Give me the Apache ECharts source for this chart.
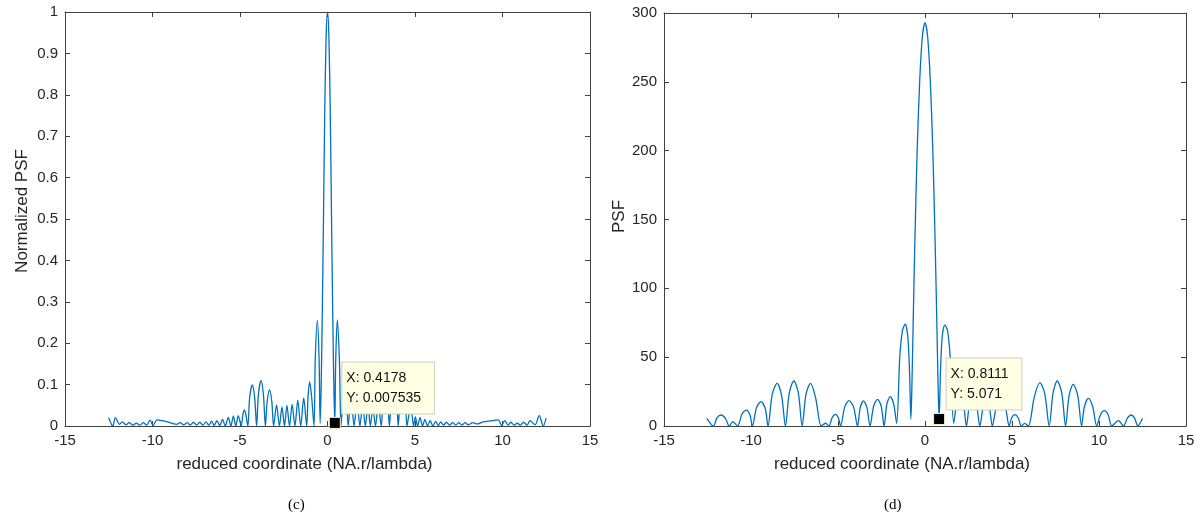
<!DOCTYPE html>
<html>
<head>
<meta charset="utf-8">
<script src="https://cdn.jsdelivr.net/npm/echarts@6/dist/echarts.min.js"></script>
<style>
html,body{margin:0;padding:0;background:#fff;}
#c{width:1200px;height:522px;}
</style>
</head>
<body>
<div id="c"></div>
<script>
// ---- data ----
const xTicks = [-15, -10, -5, 0, 5, 10, 15];
const normTicks = [0, 0.1, 0.2, 0.3, 0.4, 0.5, 0.6, 0.7, 0.8, 0.9, 1];
const psfTicks = [0, 50, 100, 150, 200, 250, 300];

const xName = 'reduced coordinate (NA.r/lambda)';
const normName = 'Normalized PSF';
const psfName = 'PSF';
const captions = ['(c)', '(d)'];

// (c) normalized PSF : [x, value]
const normPsf = [
  [-12.50, 0.020], [-12.27, 0.000], [-12.12, 0.020], [-11.88, 0.004], [-11.72, 0.010],
  [-11.52, 0.003], [-11.33, 0.008], [-11.12, 0.002], [-10.92, 0.007], [-10.72, 0.002],
  [-10.52, 0.008], [-10.34, 0.002], [-10.14, 0.014], [-9.96, 0.001], [-9.75, 0.015],
  [-9.45, 0.013], [-9.15, 0.010], [-8.85, 0.006], [-8.62, 0.004], [-8.42, 0.008],
  [-8.22, 0.003], [-8.02, 0.008], [-7.84, 0.002], [-7.66, 0.009], [-7.47, 0.002],
  [-7.30, 0.009], [-7.12, 0.002], [-6.95, 0.010], [-6.78, 0.002], [-6.62, 0.012],
  [-6.47, 0.001], [-6.32, 0.013], [-6.16, 0.001], [-6.00, 0.016], [-5.84, 0.000],
  [-5.67, 0.021], [-5.52, 0.000], [-5.38, 0.024], [-5.24, 0.000], [-5.10, 0.025],
  [-4.93, 0.000], [-4.84, 0.026], [-4.75, 0.039], [-4.66, 0.026], [-4.55, 0.000],
  [-4.45, 0.068], [-4.30, 0.099], [-4.16, 0.068], [-4.05, 0.000],
  [-3.95, 0.075], [-3.80, 0.110], [-3.66, 0.075], [-3.55, 0.000],
  [-3.45, 0.058], [-3.31, 0.087], [-3.18, 0.058], [-3.08, 0.000],
  [-2.91, 0.051], [-2.75, 0.000], [-2.60, 0.046], [-2.46, 0.000], [-2.32, 0.050],
  [-2.17, 0.000], [-2.02, 0.052], [-1.86, 0.000], [-1.70, 0.062], [-1.53, 0.000],
  [-1.36, 0.068], [-1.19, 0.000], [-1.11, 0.072], [-1.02, 0.107], [-0.91, 0.072],
  [-0.77, 0.000], [-0.70, 0.160], [-0.58, 0.255], [-0.48, 0.160], [-0.42, 0.006],
  [-0.36, 0.100], [-0.29, 0.300], [-0.23, 0.500], [-0.16, 0.750], [-0.08, 0.940],
  [0.00, 1.000],
  [0.08, 0.940], [0.16, 0.750], [0.23, 0.500], [0.29, 0.300], [0.36, 0.100],
  [0.4178, 0.007535], [0.47, 0.160], [0.56, 0.256], [0.68, 0.160], [0.77, 0.000],
  [0.90, 0.072], [1.01, 0.106], [1.10, 0.072], [1.18, 0.000], [1.35, 0.068],
  [1.52, 0.000], [1.69, 0.061], [1.85, 0.000], [2.01, 0.052], [2.16, 0.000],
  [2.31, 0.050], [2.45, 0.000], [2.59, 0.046], [2.74, 0.000], [2.90, 0.051],
  [3.07, 0.000], [3.17, 0.058], [3.30, 0.087], [3.44, 0.058], [3.54, 0.000],
  [3.65, 0.075], [3.79, 0.110], [3.94, 0.075], [4.04, 0.000],
  [4.15, 0.068], [4.29, 0.099], [4.44, 0.068], [4.54, 0.000],
  [4.65, 0.026], [4.74, 0.038], [4.83, 0.026], [4.92, 0.000], [5.02, 0.022],
  [5.15, 0.000], [5.29, 0.020], [5.43, 0.000], [5.57, 0.016], [5.72, 0.000],
  [5.87, 0.013], [6.02, 0.000], [6.18, 0.011], [6.33, 0.001], [6.47, 0.010],
  [6.63, 0.002], [6.80, 0.009], [6.97, 0.002], [7.15, 0.008], [7.33, 0.002],
  [7.50, 0.008], [7.68, 0.002], [7.86, 0.008], [8.05, 0.003], [8.30, 0.008],
  [8.55, 0.005], [8.90, 0.010], [9.20, 0.012], [9.47, 0.013], [9.76, 0.015],
  [9.95, 0.001], [10.13, 0.013], [10.32, 0.002], [10.48, 0.009], [10.66, 0.002],
  [10.85, 0.007], [11.03, 0.002], [11.20, 0.009], [11.40, 0.002], [11.57, 0.013],
  [11.86, 0.003], [12.10, 0.025], [12.33, 0.000], [12.49, 0.019]
];

// (d) PSF : [x, value]
const psf = [
  [-12.54, 5.6], [-12.16, 0.0], [-11.95, 6.0], [-11.71, 8.0], [-11.47, 5.5],
  [-11.25, 0.0], [-11.04, 3.1], [-10.77, 0.0], [-10.52, 8.5], [-10.27, 11.6],
  [-10.06, 8.0], [-9.92, 0.0], [-9.68, 13.5], [-9.42, 17.7], [-9.18, 12.5],
  [-9.02, 0.0], [-8.78, 23.0], [-8.50, 31.0], [-8.24, 22.0], [-8.02, 0.0],
  [-7.80, 24.0], [-7.54, 32.7], [-7.28, 24.0], [-7.06, 0.0], [-6.84, 23.0],
  [-6.58, 31.0], [-6.28, 20.0], [-5.96, 0.0], [-5.71, 2.0], [-5.52, 0.0],
  [-5.33, 6.3], [-5.14, 8.5], [-4.98, 6.0], [-4.85, 0.0], [-4.62, 13.5],
  [-4.37, 18.4], [-4.10, 13.5], [-3.88, 0.0], [-3.72, 13.5], [-3.54, 18.2],
  [-3.34, 13.5], [-3.16, 0.0], [-2.95, 14.5], [-2.73, 19.4], [-2.52, 14.5],
  [-2.35, 0.0], [-2.19, 16.0], [-2.00, 21.3], [-1.80, 16.0], [-1.63, 2.0],
  [-1.45, 50.0], [-1.30, 69.0], [-1.14, 74.0], [-0.99, 65.0], [-0.89, 40.0],
  [-0.81, 5.07], [-0.76, 25.0], [-0.68, 75.0], [-0.58, 135.0], [-0.45, 200.0],
  [-0.30, 252.0], [-0.15, 283.0], [0.00, 293.0], [0.15, 283.0], [0.30, 252.0],
  [0.45, 200.0], [0.58, 135.0], [0.68, 75.0], [0.76, 25.0], [0.8111, 5.071],
  [0.89, 40.0], [0.99, 65.0], [1.14, 73.5], [1.30, 69.0], [1.45, 50.0],
  [1.65, 2.0], [1.82, 16.0], [2.02, 21.3], [2.21, 16.0], [2.38, 0.0],
  [2.55, 14.5], [2.76, 19.4], [2.97, 14.5], [3.15, 0.0], [3.34, 13.5],
  [3.52, 18.2], [3.70, 13.5], [3.87, 0.0], [4.10, 13.5], [4.37, 18.4],
  [4.62, 13.5], [4.84, 0.0], [4.98, 6.0], [5.17, 8.2], [5.35, 6.0],
  [5.54, 0.0], [5.73, 1.9], [5.94, 0.0], [6.28, 21.0], [6.60, 31.5],
  [6.88, 23.5], [7.14, 0.0], [7.36, 24.0], [7.60, 32.7], [7.86, 24.0],
  [8.08, 0.0], [8.28, 22.0], [8.52, 30.3], [8.78, 22.0], [9.00, 0.0],
  [9.16, 14.0], [9.39, 20.1], [9.64, 14.0], [9.87, 0.0], [10.08, 8.0],
  [10.31, 11.1], [10.53, 8.0], [10.73, 0.0], [11.12, 3.9], [11.41, 0.0],
  [11.62, 5.5], [11.85, 8.0], [12.05, 5.5], [12.23, 0.0], [12.50, 5.6]
];

// data tips
const tipNorm = [0.4178, 0.007535];
const tipPsf = [0.8111, 5.071];

// ---- chart ----
const LINE = '#0072BD';
const AXIS = '#404040';
const TXT = '#262626';
const FONT = '"Liberation Sans", Arial, sans-serif';

function fmt(v) { return String(parseFloat(Number(v).toFixed(4))); }

function xAxes(gi) {
  const base = {
    gridIndex: gi, type: 'value',
    min: xTicks[0], max: xTicks[xTicks.length - 1], interval: xTicks[1] - xTicks[0],
    splitLine: { show: false },
    axisLine: { onZero: false, lineStyle: { color: AXIS, width: 1 } },
    axisTick: { inside: true, length: 5, lineStyle: { color: AXIS } }
  };
  return [
    Object.assign({}, base, {
      position: 'bottom',
      axisLabel: { color: TXT, fontSize: 15, fontFamily: FONT, margin: 7, formatter: fmt },
      name: xName, nameLocation: 'middle', nameGap: 30,
      nameTextStyle: { color: TXT, fontSize: 17, fontFamily: FONT, padding: [0, 46, 0, 0] }
    }),
    Object.assign({}, base, { position: 'top', axisLabel: { show: false } })
  ];
}
function yAxes(gi, ticks, name, gap, shift) {
  const base = {
    gridIndex: gi, type: 'value',
    min: ticks[0], max: ticks[ticks.length - 1], interval: ticks[1] - ticks[0],
    splitLine: { show: false },
    axisLine: { onZero: false, lineStyle: { color: AXIS, width: 1 } },
    axisTick: { inside: true, length: 5, lineStyle: { color: AXIS } }
  };
  return [
    Object.assign({}, base, {
      position: 'left',
      axisLabel: { color: TXT, fontSize: 15, fontFamily: FONT, margin: 7, formatter: fmt },
      name: name, nameLocation: 'middle', nameGap: gap, nameRotate: 90,
      nameTextStyle: { color: TXT, fontSize: 17, fontFamily: FONT, padding: [0, 0, 0, shift] }
    }),
    Object.assign({}, base, { position: 'right', axisLabel: { show: false } })
  ];
}

function tipSeries(xi, yi, tip) {
  return {
    type: 'scatter', xAxisIndex: xi, yAxisIndex: yi, clip: false, z: 20, zlevel: 1,
    data: [tip], symbol: 'rect', symbolSize: 11,
    itemStyle: { color: '#000', borderColor: '#f3f0c8', borderWidth: 1, opacity: 1 },
    label: {
      show: true, position: [13.5, -54.5],
      formatter: 'X: ' + tip[0] + '\nY: ' + tip[1],
      color: '#111', fontSize: 14, fontFamily: FONT, lineHeight: 20,
      backgroundColor: '#ffffe3', borderColor: '#cfcfbf', borderWidth: 1,
      padding: [6, 13, 5, 4]
    },
    labelLayout: { hideOverlap: false },
    emphasis: { disabled: true },
    silent: true
  };
}

const option = {
  animation: false,
  backgroundColor: '#fff',
  grid: [
    { left: 65, top: 12, width: 525, height: 414 },
    { left: 664, top: 13, width: 522, height: 413 }
  ],
  xAxis: xAxes(0).concat(xAxes(1)),
  yAxis: yAxes(0, normTicks, normName, 34, 16).concat(yAxes(1, psfTicks, psfName, 34, 6)),
  series: [
    {
      type: 'line', xAxisIndex: 0, yAxisIndex: 0, data: normPsf, z: 1,
      showSymbol: false, symbol: 'none', smooth: 0.3,
      lineStyle: { color: LINE, width: 1.3 }
    },
    {
      type: 'line', xAxisIndex: 2, yAxisIndex: 2, data: psf, z: 1,
      showSymbol: false, symbol: 'none', smooth: 0.3,
      lineStyle: { color: LINE, width: 1.3 }
    },
    tipSeries(0, 0, tipNorm),
    tipSeries(2, 2, tipPsf)
  ],
  graphic: [
    { type: 'text', left: 288, top: 498, style: { text: captions[0], fill: '#000', font: '15px "Liberation Serif", "Times New Roman", serif' } },
    { type: 'text', left: 884, top: 498, style: { text: captions[1], fill: '#000', font: '15px "Liberation Serif", "Times New Roman", serif' } }
  ]
};

const chart = echarts.init(document.getElementById('c'), null, { renderer: 'canvas' });
chart.setOption(option);
</script>
</body>
</html>
